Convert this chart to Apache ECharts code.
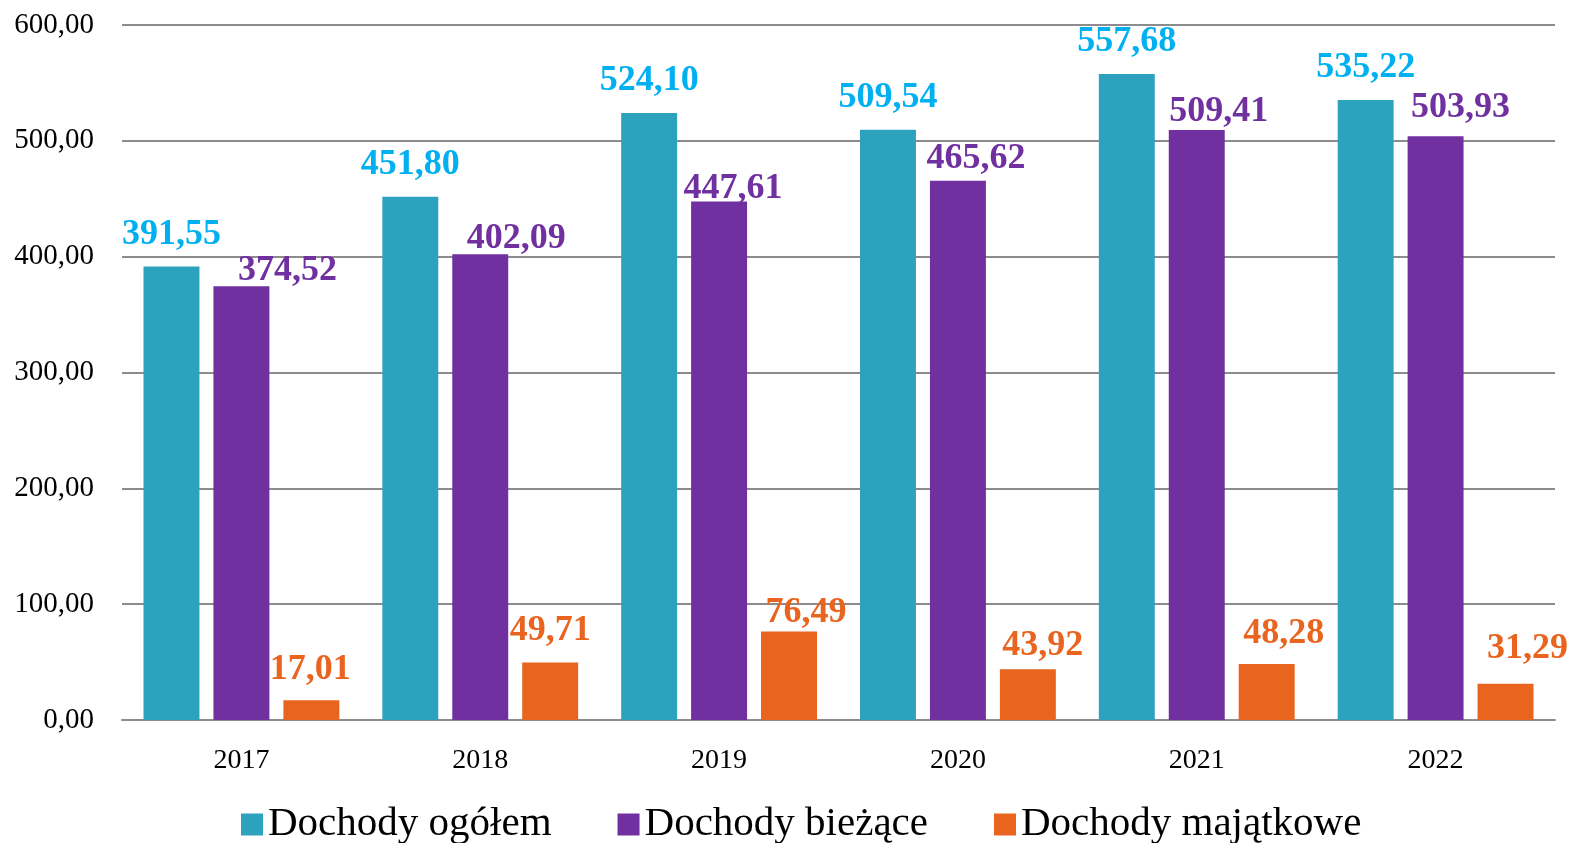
<!DOCTYPE html>
<html>
<head>
<meta charset="utf-8">
<script src="https://cdn.jsdelivr.net/npm/echarts@6/dist/echarts.min.js"></script>
<style>
  html, body { margin: 0; padding: 0; background: #fff; }
  #chart { width: 1571px; height: 843px; }
</style>
</head>
<body>
<div id="chart"></div>
<script>
// data
const years = ['2017', '2018', '2019', '2020', '2021', '2022'];
const ogolem = [391.55, 451.80, 524.10, 509.54, 557.68, 535.22];
const biezace = [374.52, 402.09, 447.61, 465.62, 509.41, 503.93];
const majatkowe = [17.01, 49.71, 76.49, 43.92, 48.28, 31.29];

// label nudges (the source labels were hand-placed)
const biezaceShift = [[46, 17], [36, 16], [14, 19], [18, 10], [22, 14], [25, 3]];
const majatkoweShift = [[-1, 1], [0, 0], [17, 13], [15, 9], [17, 2], [22, -3]];

const fmt = v => v.toFixed(2).replace('.', ',');
const serif = '"Liberation Serif", "DejaVu Serif", serif';

function withShift(values, shifts) {
  return values.map((v, i) => ({ value: v, label: { offset: shifts[i] } }));
}

function barSeries(name, color, labelColor, data) {
  return {
    name: name,
    type: 'bar',
    data: data,
    barGap: '25%',
    barCategoryGap: '18%',
    itemStyle: { color: color },
    label: {
      show: true,
      position: 'top',
      distance: 14,
      color: labelColor,
      fontFamily: serif,
      fontWeight: 'bold',
      fontSize: 36,
      formatter: p => fmt(p.value)
    }
  };
}

const chart = echarts.init(document.getElementById('chart'));
chart.setOption({
  animation: false,
  grid: { left: 122, right: 16, top: 25, bottom: 123 },
  legend: {
    bottom: -7,
    left: 236,
    itemWidth: 22,
    itemHeight: 22,
    itemGap: 66,
    icon: 'rect',
    textStyle: { fontFamily: serif, fontSize: 41, color: '#000' },
    data: ['Dochody ogółem', 'Dochody bieżące', 'Dochody majątkowe']
  },
  xAxis: {
    type: 'category',
    data: years,
    axisTick: { show: false },
    axisLine: { lineStyle: { color: '#8c8c8c', width: 2 } },
    axisLabel: { color: '#000', fontFamily: serif, fontSize: 28, margin: 27 }
  },
  yAxis: {
    type: 'value',
    min: 0,
    max: 600,
    interval: 100,
    axisLine: { show: false },
    axisTick: { show: false },
    splitLine: { lineStyle: { color: '#8c8c8c', width: 2 } },
    axisLabel: { color: '#000', fontFamily: serif, fontSize: 29, margin: 28, formatter: v => fmt(v) }
  },
  series: [
    barSeries('Dochody ogółem', '#2ca2bf', '#00b0f0', ogolem),
    barSeries('Dochody bieżące', '#7030a0', '#7030a0', withShift(biezace, biezaceShift)),
    barSeries('Dochody majątkowe', '#e9641f', '#e9641f', withShift(majatkowe, majatkoweShift))
  ]
});
</script>
</body>
</html>
